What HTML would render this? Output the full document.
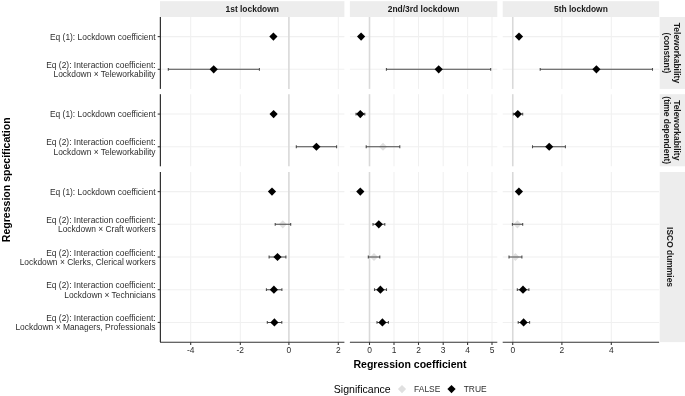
<!DOCTYPE html>
<html><head><meta charset="utf-8"><style>
html,body{margin:0;padding:0;background:#fff;}
svg{display:block;will-change:transform;}
text{font-family:"Liberation Sans",sans-serif;}
.a{font-size:8.43px;fill:#2E2E2E;}
.s{font-size:8.43px;font-weight:bold;fill:#1A1A1A;}
.t{font-size:10.55px;font-weight:bold;fill:#000;}
.lt{font-size:10.55px;fill:#000;}
</style></head><body>
<svg width="685" height="396" viewBox="0 0 685 396">
<rect width="685" height="396" fill="#fff"/>
<rect x="160.0" y="1.2" width="184.40" height="15.80" fill="#EDEDED"/>
<text x="252.20" y="12.0" class="s" text-anchor="middle">1st lockdown</text>
<rect x="349.9" y="1.2" width="147.40" height="15.80" fill="#EDEDED"/>
<text x="423.60" y="12.0" class="s" text-anchor="middle">2nd/3rd lockdown</text>
<rect x="502.7" y="1.2" width="156.40" height="15.80" fill="#EDEDED"/>
<text x="580.90" y="12.0" class="s" text-anchor="middle">5th lockdown</text>
<rect x="659.7" y="17.0" width="25.30" height="71.90" fill="#EDEDED"/>
<text transform="translate(676.5 52.95) rotate(90)" class="s" text-anchor="middle" y="3.0">Teleworkability</text>
<text transform="translate(666.6 52.95) rotate(90)" class="s" text-anchor="middle" y="3.0">(constant)</text>
<rect x="659.7" y="94.2" width="25.30" height="72.10" fill="#EDEDED"/>
<text transform="translate(676.5 130.25) rotate(90)" class="s" text-anchor="middle" y="3.0">Teleworkability</text>
<text transform="translate(666.6 130.25) rotate(90)" class="s" text-anchor="middle" y="3.0">(time dependent)</text>
<rect x="659.7" y="172.0" width="25.30" height="170.10" fill="#EDEDED"/>
<text transform="translate(670.4 257.05) rotate(90)" class="s" text-anchor="middle" y="3.0">ISCO dummies</text>
<line x1="160.0" x2="344.4" y1="36.62" y2="36.62" stroke="#F0F0F0" stroke-width="1.07"/>
<line x1="160.0" x2="344.4" y1="69.32" y2="69.32" stroke="#F0F0F0" stroke-width="1.07"/>
<line x1="190.7" x2="190.7" y1="17.0" y2="88.9" stroke="#F0F0F0" stroke-width="1.07"/>
<line x1="240.3" x2="240.3" y1="17.0" y2="88.9" stroke="#F0F0F0" stroke-width="1.07"/>
<line x1="338.3" x2="338.3" y1="17.0" y2="88.9" stroke="#F0F0F0" stroke-width="1.07"/>
<line x1="288.9" x2="288.9" y1="17.0" y2="88.9" stroke="#D9D9D9" stroke-width="1.6"/>
<line x1="160.0" x2="344.4" y1="114.07" y2="114.07" stroke="#F0F0F0" stroke-width="1.07"/>
<line x1="160.0" x2="344.4" y1="146.77" y2="146.77" stroke="#F0F0F0" stroke-width="1.07"/>
<line x1="190.7" x2="190.7" y1="94.2" y2="166.3" stroke="#F0F0F0" stroke-width="1.07"/>
<line x1="240.3" x2="240.3" y1="94.2" y2="166.3" stroke="#F0F0F0" stroke-width="1.07"/>
<line x1="338.3" x2="338.3" y1="94.2" y2="166.3" stroke="#F0F0F0" stroke-width="1.07"/>
<line x1="288.9" x2="288.9" y1="94.2" y2="166.3" stroke="#D9D9D9" stroke-width="1.6"/>
<line x1="160.0" x2="344.4" y1="191.62" y2="191.62" stroke="#F0F0F0" stroke-width="1.07"/>
<line x1="160.0" x2="344.4" y1="224.32" y2="224.32" stroke="#F0F0F0" stroke-width="1.07"/>
<line x1="160.0" x2="344.4" y1="257.02" y2="257.02" stroke="#F0F0F0" stroke-width="1.07"/>
<line x1="160.0" x2="344.4" y1="289.72" y2="289.72" stroke="#F0F0F0" stroke-width="1.07"/>
<line x1="160.0" x2="344.4" y1="322.42" y2="322.42" stroke="#F0F0F0" stroke-width="1.07"/>
<line x1="190.7" x2="190.7" y1="172.0" y2="342.1" stroke="#F0F0F0" stroke-width="1.07"/>
<line x1="240.3" x2="240.3" y1="172.0" y2="342.1" stroke="#F0F0F0" stroke-width="1.07"/>
<line x1="338.3" x2="338.3" y1="172.0" y2="342.1" stroke="#F0F0F0" stroke-width="1.07"/>
<line x1="288.9" x2="288.9" y1="172.0" y2="342.1" stroke="#D9D9D9" stroke-width="1.6"/>
<line x1="349.9" x2="497.3" y1="36.62" y2="36.62" stroke="#F0F0F0" stroke-width="1.07"/>
<line x1="349.9" x2="497.3" y1="69.32" y2="69.32" stroke="#F0F0F0" stroke-width="1.07"/>
<line x1="394.0" x2="394.0" y1="17.0" y2="88.9" stroke="#F0F0F0" stroke-width="1.07"/>
<line x1="418.5" x2="418.5" y1="17.0" y2="88.9" stroke="#F0F0F0" stroke-width="1.07"/>
<line x1="443.2" x2="443.2" y1="17.0" y2="88.9" stroke="#F0F0F0" stroke-width="1.07"/>
<line x1="467.6" x2="467.6" y1="17.0" y2="88.9" stroke="#F0F0F0" stroke-width="1.07"/>
<line x1="492.0" x2="492.0" y1="17.0" y2="88.9" stroke="#F0F0F0" stroke-width="1.07"/>
<line x1="369.5" x2="369.5" y1="17.0" y2="88.9" stroke="#D9D9D9" stroke-width="1.6"/>
<line x1="349.9" x2="497.3" y1="114.07" y2="114.07" stroke="#F0F0F0" stroke-width="1.07"/>
<line x1="349.9" x2="497.3" y1="146.77" y2="146.77" stroke="#F0F0F0" stroke-width="1.07"/>
<line x1="394.0" x2="394.0" y1="94.2" y2="166.3" stroke="#F0F0F0" stroke-width="1.07"/>
<line x1="418.5" x2="418.5" y1="94.2" y2="166.3" stroke="#F0F0F0" stroke-width="1.07"/>
<line x1="443.2" x2="443.2" y1="94.2" y2="166.3" stroke="#F0F0F0" stroke-width="1.07"/>
<line x1="467.6" x2="467.6" y1="94.2" y2="166.3" stroke="#F0F0F0" stroke-width="1.07"/>
<line x1="492.0" x2="492.0" y1="94.2" y2="166.3" stroke="#F0F0F0" stroke-width="1.07"/>
<line x1="369.5" x2="369.5" y1="94.2" y2="166.3" stroke="#D9D9D9" stroke-width="1.6"/>
<line x1="349.9" x2="497.3" y1="191.62" y2="191.62" stroke="#F0F0F0" stroke-width="1.07"/>
<line x1="349.9" x2="497.3" y1="224.32" y2="224.32" stroke="#F0F0F0" stroke-width="1.07"/>
<line x1="349.9" x2="497.3" y1="257.02" y2="257.02" stroke="#F0F0F0" stroke-width="1.07"/>
<line x1="349.9" x2="497.3" y1="289.72" y2="289.72" stroke="#F0F0F0" stroke-width="1.07"/>
<line x1="349.9" x2="497.3" y1="322.42" y2="322.42" stroke="#F0F0F0" stroke-width="1.07"/>
<line x1="394.0" x2="394.0" y1="172.0" y2="342.1" stroke="#F0F0F0" stroke-width="1.07"/>
<line x1="418.5" x2="418.5" y1="172.0" y2="342.1" stroke="#F0F0F0" stroke-width="1.07"/>
<line x1="443.2" x2="443.2" y1="172.0" y2="342.1" stroke="#F0F0F0" stroke-width="1.07"/>
<line x1="467.6" x2="467.6" y1="172.0" y2="342.1" stroke="#F0F0F0" stroke-width="1.07"/>
<line x1="492.0" x2="492.0" y1="172.0" y2="342.1" stroke="#F0F0F0" stroke-width="1.07"/>
<line x1="369.5" x2="369.5" y1="172.0" y2="342.1" stroke="#D9D9D9" stroke-width="1.6"/>
<line x1="502.7" x2="659.1" y1="36.62" y2="36.62" stroke="#F0F0F0" stroke-width="1.07"/>
<line x1="502.7" x2="659.1" y1="69.32" y2="69.32" stroke="#F0F0F0" stroke-width="1.07"/>
<line x1="561.9" x2="561.9" y1="17.0" y2="88.9" stroke="#F0F0F0" stroke-width="1.07"/>
<line x1="611.3" x2="611.3" y1="17.0" y2="88.9" stroke="#F0F0F0" stroke-width="1.07"/>
<line x1="512.75" x2="512.75" y1="17.0" y2="88.9" stroke="#D9D9D9" stroke-width="1.6"/>
<line x1="502.7" x2="659.1" y1="114.07" y2="114.07" stroke="#F0F0F0" stroke-width="1.07"/>
<line x1="502.7" x2="659.1" y1="146.77" y2="146.77" stroke="#F0F0F0" stroke-width="1.07"/>
<line x1="561.9" x2="561.9" y1="94.2" y2="166.3" stroke="#F0F0F0" stroke-width="1.07"/>
<line x1="611.3" x2="611.3" y1="94.2" y2="166.3" stroke="#F0F0F0" stroke-width="1.07"/>
<line x1="512.75" x2="512.75" y1="94.2" y2="166.3" stroke="#D9D9D9" stroke-width="1.6"/>
<line x1="502.7" x2="659.1" y1="191.62" y2="191.62" stroke="#F0F0F0" stroke-width="1.07"/>
<line x1="502.7" x2="659.1" y1="224.32" y2="224.32" stroke="#F0F0F0" stroke-width="1.07"/>
<line x1="502.7" x2="659.1" y1="257.02" y2="257.02" stroke="#F0F0F0" stroke-width="1.07"/>
<line x1="502.7" x2="659.1" y1="289.72" y2="289.72" stroke="#F0F0F0" stroke-width="1.07"/>
<line x1="502.7" x2="659.1" y1="322.42" y2="322.42" stroke="#F0F0F0" stroke-width="1.07"/>
<line x1="561.9" x2="561.9" y1="172.0" y2="342.1" stroke="#F0F0F0" stroke-width="1.07"/>
<line x1="611.3" x2="611.3" y1="172.0" y2="342.1" stroke="#F0F0F0" stroke-width="1.07"/>
<line x1="512.75" x2="512.75" y1="172.0" y2="342.1" stroke="#D9D9D9" stroke-width="1.6"/>
<path d="M378.90 146.77L383.00 142.67L387.10 146.77L383.00 150.87Z" fill="#E0E0E0"/>
<path d="M278.70 224.32L282.80 220.22L286.90 224.32L282.80 228.42Z" fill="#E0E0E0"/>
<path d="M369.90 257.02L374.00 252.92L378.10 257.02L374.00 261.12Z" fill="#E0E0E0"/>
<path d="M513.30 224.32L517.40 220.22L521.50 224.32L517.40 228.42Z" fill="#E0E0E0"/>
<path d="M511.30 257.02L515.40 252.92L519.50 257.02L515.40 261.12Z" fill="#E0E0E0"/>
<path d="M168.30 69.32H259.40M168.30 67.92V70.72M259.40 67.92V70.72" stroke="#4A4A4A" stroke-width="1.07" fill="none"/>
<path d="M386.40 69.32H490.70M386.40 67.92V70.72M490.70 67.92V70.72" stroke="#4A4A4A" stroke-width="1.07" fill="none"/>
<path d="M540.20 69.32H652.50M540.20 67.92V70.72M652.50 67.92V70.72" stroke="#4A4A4A" stroke-width="1.07" fill="none"/>
<path d="M296.30 146.77H336.60M296.30 145.37V148.17M336.60 145.37V148.17" stroke="#4A4A4A" stroke-width="1.07" fill="none"/>
<path d="M356.00 114.07H364.80M356.00 112.67V115.47M364.80 112.67V115.47" stroke="#4A4A4A" stroke-width="1.07" fill="none"/>
<path d="M366.20 146.77H399.80M366.20 145.37V148.17M399.80 145.37V148.17" stroke="#4A4A4A" stroke-width="1.07" fill="none"/>
<path d="M513.30 114.07H522.70M513.30 112.67V115.47M522.70 112.67V115.47" stroke="#4A4A4A" stroke-width="1.07" fill="none"/>
<path d="M532.50 146.77H565.40M532.50 145.37V148.17M565.40 145.37V148.17" stroke="#4A4A4A" stroke-width="1.07" fill="none"/>
<path d="M275.20 224.32H290.70M275.20 222.92V225.72M290.70 222.92V225.72" stroke="#4A4A4A" stroke-width="1.07" fill="none"/>
<path d="M269.10 257.02H285.90M269.10 255.62V258.42M285.90 255.62V258.42" stroke="#4A4A4A" stroke-width="1.07" fill="none"/>
<path d="M266.40 289.72H281.90M266.40 288.32V291.12M281.90 288.32V291.12" stroke="#4A4A4A" stroke-width="1.07" fill="none"/>
<path d="M267.30 322.42H281.80M267.30 321.02V323.82M281.80 321.02V323.82" stroke="#4A4A4A" stroke-width="1.07" fill="none"/>
<path d="M373.00 224.32H384.80M373.00 222.92V225.72M384.80 222.92V225.72" stroke="#4A4A4A" stroke-width="1.07" fill="none"/>
<path d="M368.30 257.02H379.80M368.30 255.62V258.42M379.80 255.62V258.42" stroke="#4A4A4A" stroke-width="1.07" fill="none"/>
<path d="M374.50 289.72H386.50M374.50 288.32V291.12M386.50 288.32V291.12" stroke="#4A4A4A" stroke-width="1.07" fill="none"/>
<path d="M377.00 322.42H388.40M377.00 321.02V323.82M388.40 321.02V323.82" stroke="#4A4A4A" stroke-width="1.07" fill="none"/>
<path d="M512.40 224.32H522.70M512.40 222.92V225.72M522.70 222.92V225.72" stroke="#4A4A4A" stroke-width="1.07" fill="none"/>
<path d="M509.00 257.02H521.90M509.00 255.62V258.42M521.90 255.62V258.42" stroke="#4A4A4A" stroke-width="1.07" fill="none"/>
<path d="M517.30 289.72H528.90M517.30 288.32V291.12M528.90 288.32V291.12" stroke="#4A4A4A" stroke-width="1.07" fill="none"/>
<path d="M518.20 322.42H529.60M518.20 321.02V323.82M529.60 321.02V323.82" stroke="#4A4A4A" stroke-width="1.07" fill="none"/>
<path d="M269.30 36.62L273.40 32.52L277.50 36.62L273.40 40.72Z" fill="#000"/>
<path d="M209.60 69.32L213.70 65.22L217.80 69.32L213.70 73.42Z" fill="#000"/>
<path d="M357.00 36.62L361.10 32.52L365.20 36.62L361.10 40.72Z" fill="#000"/>
<path d="M434.60 69.32L438.70 65.22L442.80 69.32L438.70 73.42Z" fill="#000"/>
<path d="M514.90 36.62L519.00 32.52L523.10 36.62L519.00 40.72Z" fill="#000"/>
<path d="M592.30 69.32L596.40 65.22L600.50 69.32L596.40 73.42Z" fill="#000"/>
<path d="M269.50 114.07L273.60 109.97L277.70 114.07L273.60 118.17Z" fill="#000"/>
<path d="M312.30 146.77L316.40 142.67L320.50 146.77L316.40 150.87Z" fill="#000"/>
<path d="M356.20 114.07L360.30 109.97L364.40 114.07L360.30 118.17Z" fill="#000"/>
<path d="M513.70 114.07L517.80 109.97L521.90 114.07L517.80 118.17Z" fill="#000"/>
<path d="M545.10 146.77L549.20 142.67L553.30 146.77L549.20 150.87Z" fill="#000"/>
<path d="M267.90 191.62L272.00 187.52L276.10 191.62L272.00 195.72Z" fill="#000"/>
<path d="M273.40 257.02L277.50 252.92L281.60 257.02L277.50 261.12Z" fill="#000"/>
<path d="M269.80 289.72L273.90 285.62L278.00 289.72L273.90 293.82Z" fill="#000"/>
<path d="M270.30 322.42L274.40 318.32L278.50 322.42L274.40 326.52Z" fill="#000"/>
<path d="M356.20 191.62L360.30 187.52L364.40 191.62L360.30 195.72Z" fill="#000"/>
<path d="M374.70 224.32L378.80 220.22L382.90 224.32L378.80 228.42Z" fill="#000"/>
<path d="M376.30 289.72L380.40 285.62L384.50 289.72L380.40 293.82Z" fill="#000"/>
<path d="M378.30 322.42L382.40 318.32L386.50 322.42L382.40 326.52Z" fill="#000"/>
<path d="M514.80 191.62L518.90 187.52L523.00 191.62L518.90 195.72Z" fill="#000"/>
<path d="M518.90 289.72L523.00 285.62L527.10 289.72L523.00 293.82Z" fill="#000"/>
<path d="M519.50 322.42L523.60 318.32L527.70 322.42L523.60 326.52Z" fill="#000"/>
<line x1="160.4" x2="160.4" y1="17.0" y2="88.9" stroke="#333333" stroke-width="1.25"/>
<line x1="157.7" x2="160.45" y1="36.62" y2="36.62" stroke="#333333" stroke-width="1.07"/>
<text x="155.6" y="39.92" class="a" text-anchor="end">Eq (1): Lockdown coefficient</text>
<line x1="157.7" x2="160.45" y1="69.32" y2="69.32" stroke="#333333" stroke-width="1.07"/>
<text x="155.6" y="67.92" class="a" text-anchor="end">Eq (2): Interaction coefficient:</text>
<text x="155.6" y="77.12" class="a" text-anchor="end">Lockdown × Teleworkability</text>
<line x1="160.4" x2="160.4" y1="94.2" y2="166.3" stroke="#333333" stroke-width="1.25"/>
<line x1="157.7" x2="160.45" y1="114.07" y2="114.07" stroke="#333333" stroke-width="1.07"/>
<text x="155.6" y="117.37" class="a" text-anchor="end">Eq (1): Lockdown coefficient</text>
<line x1="157.7" x2="160.45" y1="146.77" y2="146.77" stroke="#333333" stroke-width="1.07"/>
<text x="155.6" y="145.37" class="a" text-anchor="end">Eq (2): Interaction coefficient:</text>
<text x="155.6" y="154.57" class="a" text-anchor="end">Lockdown × Teleworkability</text>
<line x1="160.4" x2="160.4" y1="172.0" y2="342.1" stroke="#333333" stroke-width="1.25"/>
<line x1="157.7" x2="160.45" y1="191.62" y2="191.62" stroke="#333333" stroke-width="1.07"/>
<text x="155.6" y="194.92" class="a" text-anchor="end">Eq (1): Lockdown coefficient</text>
<line x1="157.7" x2="160.45" y1="224.32" y2="224.32" stroke="#333333" stroke-width="1.07"/>
<text x="155.6" y="222.92" class="a" text-anchor="end">Eq (2): Interaction coefficient:</text>
<text x="155.6" y="232.12" class="a" text-anchor="end">Lockdown × Craft workers</text>
<line x1="157.7" x2="160.45" y1="257.02" y2="257.02" stroke="#333333" stroke-width="1.07"/>
<text x="155.6" y="255.62" class="a" text-anchor="end">Eq (2): Interaction coefficient:</text>
<text x="155.6" y="264.82" class="a" text-anchor="end">Lockdown × Clerks, Clerical workers</text>
<line x1="157.7" x2="160.45" y1="289.72" y2="289.72" stroke="#333333" stroke-width="1.07"/>
<text x="155.6" y="288.32" class="a" text-anchor="end">Eq (2): Interaction coefficient:</text>
<text x="155.6" y="297.52" class="a" text-anchor="end">Lockdown × Technicians</text>
<line x1="157.7" x2="160.45" y1="322.42" y2="322.42" stroke="#333333" stroke-width="1.07"/>
<text x="155.6" y="321.02" class="a" text-anchor="end">Eq (2): Interaction coefficient:</text>
<text x="155.6" y="330.22" class="a" text-anchor="end">Lockdown × Managers, Professionals</text>
<line x1="160.0" x2="344.4" y1="342.2" y2="342.2" stroke="#333333" stroke-width="1.07"/>
<line x1="190.7" x2="190.7" y1="342.2" y2="344.95" stroke="#333333" stroke-width="1.07"/>
<text x="190.7" y="353.3" class="a" text-anchor="middle">-4</text>
<line x1="240.3" x2="240.3" y1="342.2" y2="344.95" stroke="#333333" stroke-width="1.07"/>
<text x="240.3" y="353.3" class="a" text-anchor="middle">-2</text>
<line x1="288.9" x2="288.9" y1="342.2" y2="344.95" stroke="#333333" stroke-width="1.07"/>
<text x="288.9" y="353.3" class="a" text-anchor="middle">0</text>
<line x1="338.3" x2="338.3" y1="342.2" y2="344.95" stroke="#333333" stroke-width="1.07"/>
<text x="338.3" y="353.3" class="a" text-anchor="middle">2</text>
<line x1="349.9" x2="497.3" y1="342.2" y2="342.2" stroke="#333333" stroke-width="1.07"/>
<line x1="369.5" x2="369.5" y1="342.2" y2="344.95" stroke="#333333" stroke-width="1.07"/>
<text x="369.5" y="353.3" class="a" text-anchor="middle">0</text>
<line x1="394.0" x2="394.0" y1="342.2" y2="344.95" stroke="#333333" stroke-width="1.07"/>
<text x="394.0" y="353.3" class="a" text-anchor="middle">1</text>
<line x1="418.5" x2="418.5" y1="342.2" y2="344.95" stroke="#333333" stroke-width="1.07"/>
<text x="418.5" y="353.3" class="a" text-anchor="middle">2</text>
<line x1="443.2" x2="443.2" y1="342.2" y2="344.95" stroke="#333333" stroke-width="1.07"/>
<text x="443.2" y="353.3" class="a" text-anchor="middle">3</text>
<line x1="467.6" x2="467.6" y1="342.2" y2="344.95" stroke="#333333" stroke-width="1.07"/>
<text x="467.6" y="353.3" class="a" text-anchor="middle">4</text>
<line x1="492.0" x2="492.0" y1="342.2" y2="344.95" stroke="#333333" stroke-width="1.07"/>
<text x="492.0" y="353.3" class="a" text-anchor="middle">5</text>
<line x1="502.7" x2="659.1" y1="342.2" y2="342.2" stroke="#333333" stroke-width="1.07"/>
<line x1="512.75" x2="512.75" y1="342.2" y2="344.95" stroke="#333333" stroke-width="1.07"/>
<text x="512.75" y="353.3" class="a" text-anchor="middle">0</text>
<line x1="561.9" x2="561.9" y1="342.2" y2="344.95" stroke="#333333" stroke-width="1.07"/>
<text x="561.9" y="353.3" class="a" text-anchor="middle">2</text>
<line x1="611.3" x2="611.3" y1="342.2" y2="344.95" stroke="#333333" stroke-width="1.07"/>
<text x="611.3" y="353.3" class="a" text-anchor="middle">4</text>
<text x="410.0" y="367.8" class="t" text-anchor="middle">Regression coefficient</text>
<text transform="translate(9.9 179.8) rotate(-90)" class="t" text-anchor="middle">Regression specification</text>
<text x="333.8" y="393.0" class="lt">Significance</text>
<path d="M397.90 389.10L402.00 385.00L406.10 389.10L402.00 393.20Z" fill="#E0E0E0"/>
<text x="414.1" y="392.4" class="a">FALSE</text>
<path d="M447.40 389.10L451.50 385.00L455.60 389.10L451.50 393.20Z" fill="#000"/>
<text x="463.7" y="392.4" class="a">TRUE</text>
</svg>
</body></html>
